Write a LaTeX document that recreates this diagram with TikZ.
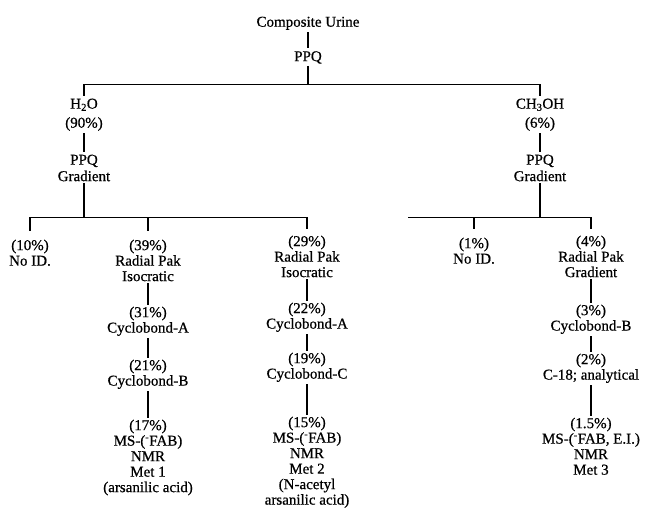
\documentclass[tikz,border=0pt]{standalone}
\usepackage{fontspec}
\setmainfont{Liberation Serif}[FakeBold=0.7]
\begin{document}
\begin{tikzpicture}[x=1bp,y=-1bp,
  lbl/.style={align=center, inner sep=0pt, anchor=north, yshift=10.5bp,
    font=\fontsize{15bp}{15.5bp}\selectfont,
    execute at begin node={\rule{0pt}{10.5bp}}},
  conn/.style={line width=1.1bp, shorten <=2bp, shorten >=2bp},
  bus/.style={line width=1.5bp}]
\useasboundingbox (0,0) rectangle (649,509);
% top
\node[lbl] (cu) at (308,26.5) {Composite Urine};
\node[lbl] (ppq) at (308,61) {PPQ};
\coordinate (Tm) at (308,84.5);
\coordinate (T1) at (84,84.5);
\coordinate (T2) at (540,84.5);
\draw[conn] (cu) -- (ppq);
\draw[conn, shorten >=0pt] (ppq.south) -- (Tm);
\draw[bus] (T1) -- (T2);
% left solvent
\node[lbl] (h2o) at (84,109) {H\textsubscript{2}O\\[3.5bp](90\%)};
\node[lbl] (ppqL) at (84,165) {PPQ\\[1bp]Gradient};
\draw[conn, shorten <=0pt] (T1) -- (h2o.north);
\draw[conn] (h2o) -- (ppqL);
% right solvent
\node[lbl] (meoh) at (540,109) {CH\textsubscript{3}OH\\[3.5bp](6\%)};
\node[lbl] (ppqR) at (540,165) {PPQ\\[1bp]Gradient};
\draw[conn, shorten <=0pt] (T2) -- (meoh.north);
\draw[conn] (meoh) -- (ppqR);
% left lower bus
\coordinate (L0) at (30,217.5);
\coordinate (L1) at (84,217.5);
\coordinate (L2) at (148,217.5);
\coordinate (L3) at (307,217.5);
\draw[conn, shorten >=0pt] (ppqL.south) -- (L1);
\draw[bus] (L0) -- (L3);
\node[lbl] (n10) at (30,250) {(10\%)\\No ID.};
\node[lbl] (a1) at (148,250) {(39\%)\\Radial Pak\\Isocratic};
\node[lbl] (a2) at (148,317) {(31\%)\\Cyclobond-A};
\node[lbl] (a3) at (148,370) {(21\%)\\Cyclobond-B};
\node[lbl] (a4) at (148,430) {(17\%)\\MS-(\textsuperscript{-}FAB)\\NMR\\Met 1\\(arsanilic acid)};
\draw[conn, shorten <=0pt, shorten >=8bp] (L0) -- (n10.north);
\draw[conn, shorten <=0pt, shorten >=8bp] (L2) -- (a1.north);
\draw[conn] (a1) -- (a2);
\draw[conn] (a2) -- (a3);
\draw[conn] (a3) -- (a4);
\node[lbl] (b1) at (307,246) {(29\%)\\Radial Pak\\Isocratic};
\node[lbl] (b2) at (307,313) {(22\%)\\Cyclobond-A};
\node[lbl] (b3) at (307,363) {(19\%)\\Cyclobond-C};
\node[lbl] (b4) at (307,427) {(15\%)\\MS-(\textsuperscript{-}FAB)\\NMR\\Met 2\\(N-acetyl\\arsanilic acid)};
\draw[conn, shorten <=0pt, shorten >=6bp] (L3) -- (b1.north);
\draw[conn] (b1) -- (b2);
\draw[conn] (b2) -- (b3);
\draw[conn] (b3) -- (b4);
% right lower bus
\coordinate (R0) at (408,217.5);
\coordinate (R1) at (474,217.5);
\coordinate (R2) at (540,217.5);
\coordinate (R3) at (591,217.5);
\draw[conn, shorten >=0pt] (ppqR.south) -- (R2);
\draw[bus] (R0) -- (R3);
\node[lbl] (n1) at (474,248) {(1\%)\\No ID.};
\node[lbl] (c1) at (591,246) {(4\%)\\Radial Pak\\Gradient};
\node[lbl] (c2) at (591,315) {(3\%)\\Cyclobond-B};
\node[lbl] (c3) at (591,364) {(2\%)\\C-18; analytical};
\node[lbl] (c4) at (591,428) {(1.5\%)\\MS-(\textsuperscript{-}FAB, E.I.)\\NMR\\Met 3};
\draw[conn, shorten <=0pt, shorten >=8bp] (R1) -- (n1.north);
\draw[conn, shorten <=0pt, shorten >=6bp] (R3) -- (c1.north);
\draw[conn] (c1) -- (c2);
\draw[conn] (c2) -- (c3);
\draw[conn] (c3) -- (c4);
\end{tikzpicture}
\end{document}
